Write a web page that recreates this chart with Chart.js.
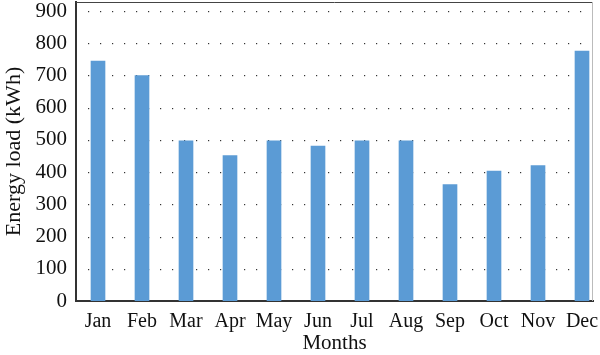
<!DOCTYPE html>
<html>
<head>
<meta charset="utf-8">
<script src="https://cdn.jsdelivr.net/npm/chart.js@4/dist/chart.umd.min.js"></script>
<style>
  html, body { margin: 0; padding: 0; background: #fff; }
  #wrap { width: 600px; height: 355px; }
</style>
</head>
<body>
<div id="wrap"><canvas id="c" width="600" height="355"></canvas></div>
<script>
// données
const months = ['Jan', 'Feb', 'Mar', 'Apr', 'May', 'Jun', 'Jul', 'Aug', 'Sep', 'Oct', 'Nov', 'Dec'];
const energyLoad = [745, 700, 497, 451, 497, 481, 497, 497, 361, 403, 420, 776];
const yTicks = [0, 100, 200, 300, 400, 500, 600, 700, 800, 900];

const serif = '"Liberation Serif", "DejaVu Serif", serif';

// cadre haut / droite (fin) dessiné à la main
const framePlugin = {
  id: 'frame',
  afterDraw(chart) {
    const { ctx, chartArea: a } = chart;
    ctx.save();
    ctx.lineWidth = 1;
    ctx.strokeStyle = '#444';
    ctx.beginPath();
    ctx.moveTo(a.left, a.top + 0.5);
    ctx.lineTo(a.right, a.top + 0.5);
    ctx.stroke();
    ctx.strokeStyle = '#bbb';
    ctx.beginPath();
    ctx.moveTo(a.right - 0.5, a.top);
    ctx.lineTo(a.right - 0.5, a.bottom);
    ctx.stroke();
    ctx.restore();
  }
};

new Chart(document.getElementById('c'), {
  type: 'bar',
  data: {
    datasets: [{
      data: energyLoad.map((v, i) => ({ x: i + 1, y: v })),
      backgroundColor: '#5b9bd5',
      borderWidth: 0,
      barThickness: 14
    }]
  },
  options: {
    responsive: false,
    animation: false,
    layout: { padding: { top: 2, right: 7, left: 0, bottom: 0 } },
    plugins: { legend: { display: false }, tooltip: { enabled: false } },
    scales: {
      x: {
        type: 'linear',
        offset: false,
        min: 0.5,
        max: 12.25,
        afterBuildTicks: s => { s.ticks = months.map((m, i) => ({ value: i + 1 })); },
        afterFit: s => { s.height = 54; s.paddingLeft = 0; s.paddingRight = 0; },
        grid: { display: false, drawTicks: false },
        border: { color: '#333', width: 2 },
        ticks: {
          autoSkip: false,
          maxRotation: 0,
          padding: 9,
          color: '#111',
          font: { family: serif, size: 20 },
          callback: v => months[v - 1]
        },
        title: {
          display: true,
          text: 'Months',
          color: '#111',
          font: { family: serif, size: 21, lineHeight: 1 },
          padding: { top: 0, bottom: 1 }
        }
      },
      y: {
        min: 0,
        max: 928,
        afterBuildTicks: s => { s.ticks = yTicks.map(v => ({ value: v })); },
        afterFit: s => { s.width = 76; s.paddingTop = 0; s.paddingBottom = 0; },
        grid: { display: false, drawTicks: false },
        border: { color: '#333', width: 2 },
        ticks: {
          padding: 9,
          color: '#111',
          font: { family: serif, size: 21 }
        },
        title: {
          display: true,
          text: 'Energy load (kWh)',
          color: '#111',
          font: { family: serif, size: 22, lineHeight: 1 },
          padding: { top: 3, bottom: 0 }
        }
      }
    }
  },
  plugins: [framePlugin, {
    // grille pointillée horizontale
    id: 'dots',
    beforeDatasetsDraw(chart) {
      const { ctx, chartArea: a, scales: { y } } = chart;
      ctx.save();
      ctx.fillStyle = '#333';
      yTicks.slice(1).forEach(v => {
        const py = Math.round(y.getPixelForValue(v));
        for (let px = a.left + 12; px < a.right - 4; px += 12) {
          ctx.fillRect(px, py, 1.2, 1.2);
        }
      });
      ctx.restore();
    }
  }]
});
</script>
</body>
</html>
